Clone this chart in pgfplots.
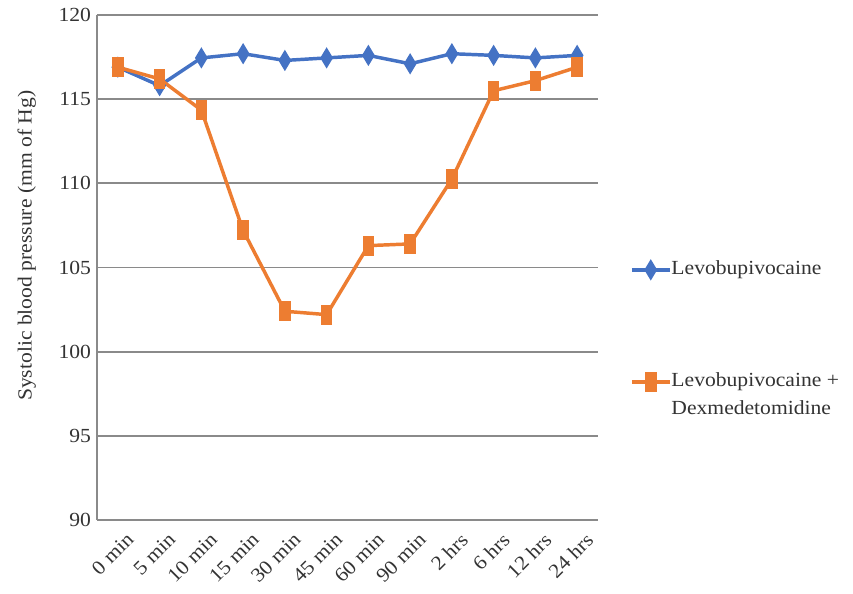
\documentclass[border=0pt]{standalone}
\usepackage{fontspec}
\setmainfont[FakeStretch=1.08]{Liberation Serif}
\usepackage{pgfplots}
\pgfplotsset{compat=1.18}
\definecolor{exblue}{HTML}{4472C4}
\definecolor{exorange}{HTML}{ED7D31}
\definecolor{gridg}{HTML}{8A8A8A}
\definecolor{txt}{HTML}{333333}
\begin{document}
\begin{tikzpicture}
\begin{axis}[
  scale only axis,
  width=375.75pt, height=378.75pt,
  xmin=-0.5, xmax=11.5,
  ymin=90, ymax=120,
  ytick={90,95,...,120},
  xtick={0,...,11},
  xticklabels={0 min,5 min,10 min,15 min,30 min,45 min,60 min,90 min,2 hrs,6 hrs,12 hrs,24 hrs},
  x tick label style={rotate=45, anchor=north east, inner sep=1pt, xshift=-1pt, yshift=-9pt},
  y tick label style={xshift=-1pt},
  major tick length=0pt,
  axis lines=left,
  axis line style={-, gridg, line width=1.3pt},
  ymajorgrids,
  grid style={gridg, line width=1.3pt},
  ylabel={Systolic blood pressure (mm of Hg)},
  ylabel style={at={(ticklabel cs:0.543)}, yshift=10pt},
  /pgf/number format/assume math mode=true,
  tick label style={font=\fontsize{15}{17}\selectfont, text=txt},
  label style={font=\fontsize{15}{17}\selectfont, text=txt},
  legend style={at={(1.064,0.523)}, anchor=north west, draw=none, fill=none,
    inner sep=0pt, outer sep=0pt,
    font=\fontsize{15}{17}\selectfont, text=txt, row sep=0pt,
    nodes={inner sep=0pt, text height=14pt, text depth=7pt}},
  legend cell align=left,
  legend image code/.code={
    \draw[#1, mark repeat=2, mark phase=2] plot coordinates {(0cm,0cm) (0.5cm,0cm) (1cm,0cm)};},
  clip=false,
]
\coordinate (sw) at (rel axis cs:0,0);
\coordinate (ne) at (rel axis cs:1,1);
\addplot[exblue, line width=2.6pt, mark=diamond*, mark size=5.5pt, mark options={xscale=0.8, solid}] coordinates {
(0,116.9) (1,115.8) (2,117.45) (3,117.7) (4,117.3) (5,117.45) (6,117.6) (7,117.1) (8,117.7) (9,117.6) (10,117.45) (11,117.6)};
\addlegendentry{Levobupivocaine}
\addlegendimage{empty legend}\addlegendentry{~}
\addlegendimage{empty legend}\addlegendentry{~}
\addlegendimage{empty legend}\addlegendentry{~}
\addplot[exorange, line width=2.6pt, mark=square*, mark size=3.1pt, mark options={yscale=2.0, solid}] coordinates {
(0,116.9) (1,116.2) (2,114.35) (3,107.2) (4,102.4) (5,102.2) (6,106.3) (7,106.4) (8,110.25) (9,115.5) (10,116.1) (11,116.9)};
\addlegendentry{Levobupivocaine +}
\addlegendimage{empty legend}
\addlegendentry{Dexmedetomidine}
\end{axis}
\pgfresetboundingbox
\path[use as bounding box] (sw) ++(-72.75pt,-55.5pt) (ne) ++(191.25pt,11.25pt);
\end{tikzpicture}
\end{document}
